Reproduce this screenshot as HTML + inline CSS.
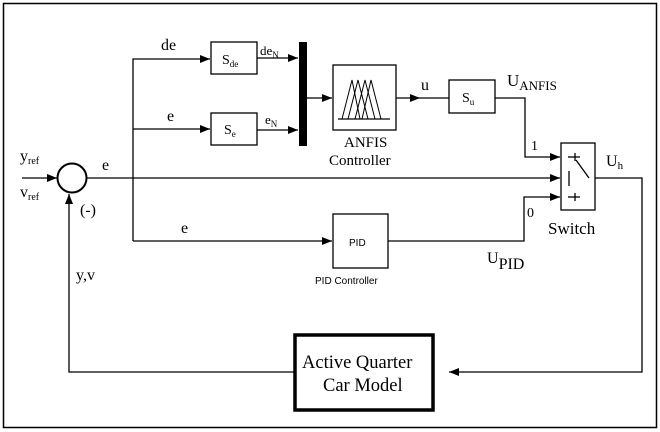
<!DOCTYPE html>
<html><head><style>
body{margin:0;background:#fff}
svg{display:block}
text{font-family:"Liberation Serif",serif;fill:#000}
.s{font-family:"Liberation Sans",sans-serif}
</style></head><body>
<svg width="660" height="432" viewBox="0 0 660 432">
<defs><marker id="a" markerWidth="10" markerHeight="8" refX="10" refY="4" orient="auto" markerUnits="userSpaceOnUse"><path d="M0,0L10,4L0,8z" fill="#000"/></marker></defs>
<rect x="3.5" y="3.5" width="653" height="424" fill="none" stroke="#000" stroke-width="1.5"/>
<g stroke="#000" stroke-width="1.3" fill="none">
<line x1="22" y1="178" x2="57" y2="178" marker-end="url(#a)"/>
<circle cx="72" cy="178" r="14.5" stroke-width="2"/>
<line x1="87" y1="178" x2="560" y2="178" marker-end="url(#a)"/>
<polyline points="133,241 133,59 210,59" marker-end="url(#a)"/>
<line x1="133" y1="129" x2="210" y2="129" marker-end="url(#a)"/>
<line x1="133" y1="241" x2="332" y2="241" marker-end="url(#a)"/>
<rect x="211" y="42" width="46" height="32"/>
<rect x="211" y="113" width="46" height="32"/>
<line x1="257" y1="58" x2="298" y2="58" marker-end="url(#a)"/>
<line x1="257" y1="130" x2="298" y2="130" marker-end="url(#a)"/>
<line x1="307" y1="98" x2="332" y2="98" marker-end="url(#a)"/>
<rect x="333" y="65" width="63" height="65"/>
<line x1="396" y1="98" x2="420" y2="98" marker-end="url(#a)"/>
<line x1="420" y1="98" x2="449" y2="98"/>
<rect x="449" y="80" width="46" height="33"/>
<polyline points="495,98 525,98 525,157 560,157" marker-end="url(#a)"/>
<rect x="333" y="214" width="55" height="54"/>
<polyline points="388,241 524,241 524,197 560,197" marker-end="url(#a)"/>
<rect x="561" y="143" width="34" height="67"/>
<polyline points="595,178 642,178 642,372 449,372" marker-end="url(#a)"/>
<polyline points="294,372 69,372 69,194" marker-end="url(#a)"/>
<rect x="295" y="335" width="138" height="75" stroke-width="3.5"/>
<line x1="568" y1="157" x2="580" y2="157"/><line x1="575" y1="153" x2="575" y2="161"/>
<line x1="568" y1="197" x2="580" y2="197"/><line x1="575" y1="193" x2="575" y2="201"/>
<line x1="569" y1="171" x2="569" y2="186"/>
<line x1="576" y1="160" x2="589" y2="178"/>
<line x1="338" y1="119" x2="390" y2="119"/>
<polyline points="342,119 352,80 360,119" stroke-width="1"/>
<polyline points="348,119 358,80 368,119" stroke-width="1"/>
<polyline points="355,119 365,80 375,119" stroke-width="1"/>
<polyline points="362,119 371,80 381,119" stroke-width="1"/>
</g>
<rect x="299" y="42" width="8" height="104" fill="#000"/>
<text x="20" y="161" font-size="16">y<tspan font-size="10" dy="3">ref</tspan></text>
<text x="20" y="197" font-size="16">v<tspan font-size="10" dy="3">ref</tspan></text>
<text x="102" y="170" font-size="16">e</text>
<text x="80" y="215" font-size="16">(-)</text>
<text x="161" y="50" font-size="16">de</text>
<text x="167" y="121" font-size="16">e</text>
<text x="181" y="233" font-size="16">e</text>
<text x="222" y="64" font-size="14">S<tspan font-size="9" dy="3">de</tspan></text>
<text x="224" y="134" font-size="14">S<tspan font-size="9" dy="3">e</tspan></text>
<text x="260" y="55" font-size="13">de<tspan font-size="9" dy="3">N</tspan></text>
<text x="265" y="124" font-size="13">e<tspan font-size="9" dy="3">N</tspan></text>
<text x="344" y="147" font-size="15">ANFIS</text>
<text x="329" y="165" font-size="15">Controller</text>
<text x="421" y="90" font-size="16">u</text>
<text x="462" y="102" font-size="14">S<tspan font-size="9" dy="3">u</tspan></text>
<text x="507" y="86" font-size="17">U<tspan font-size="13" dy="4">ANFIS</tspan></text>
<text x="531" y="150" font-size="14">1</text>
<text x="527" y="217" font-size="14">0</text>
<text x="606" y="166" font-size="16">U<tspan font-size="11" dy="3">h</tspan></text>
<text x="548" y="234" font-size="17">Switch</text>
<text x="349" y="246" font-size="10" class="s">PID</text>
<text x="315" y="284" font-size="10" class="s">PID Controller</text>
<text x="487" y="263" font-size="16">U<tspan font-size="16" dy="6">PID</tspan></text>
<text x="76" y="280" font-size="16">y,v</text>
<text x="302" y="368" font-size="18.5">Active Quarter</text>
<text x="323" y="391" font-size="18.5">Car Model</text>
</svg>
</body></html>
